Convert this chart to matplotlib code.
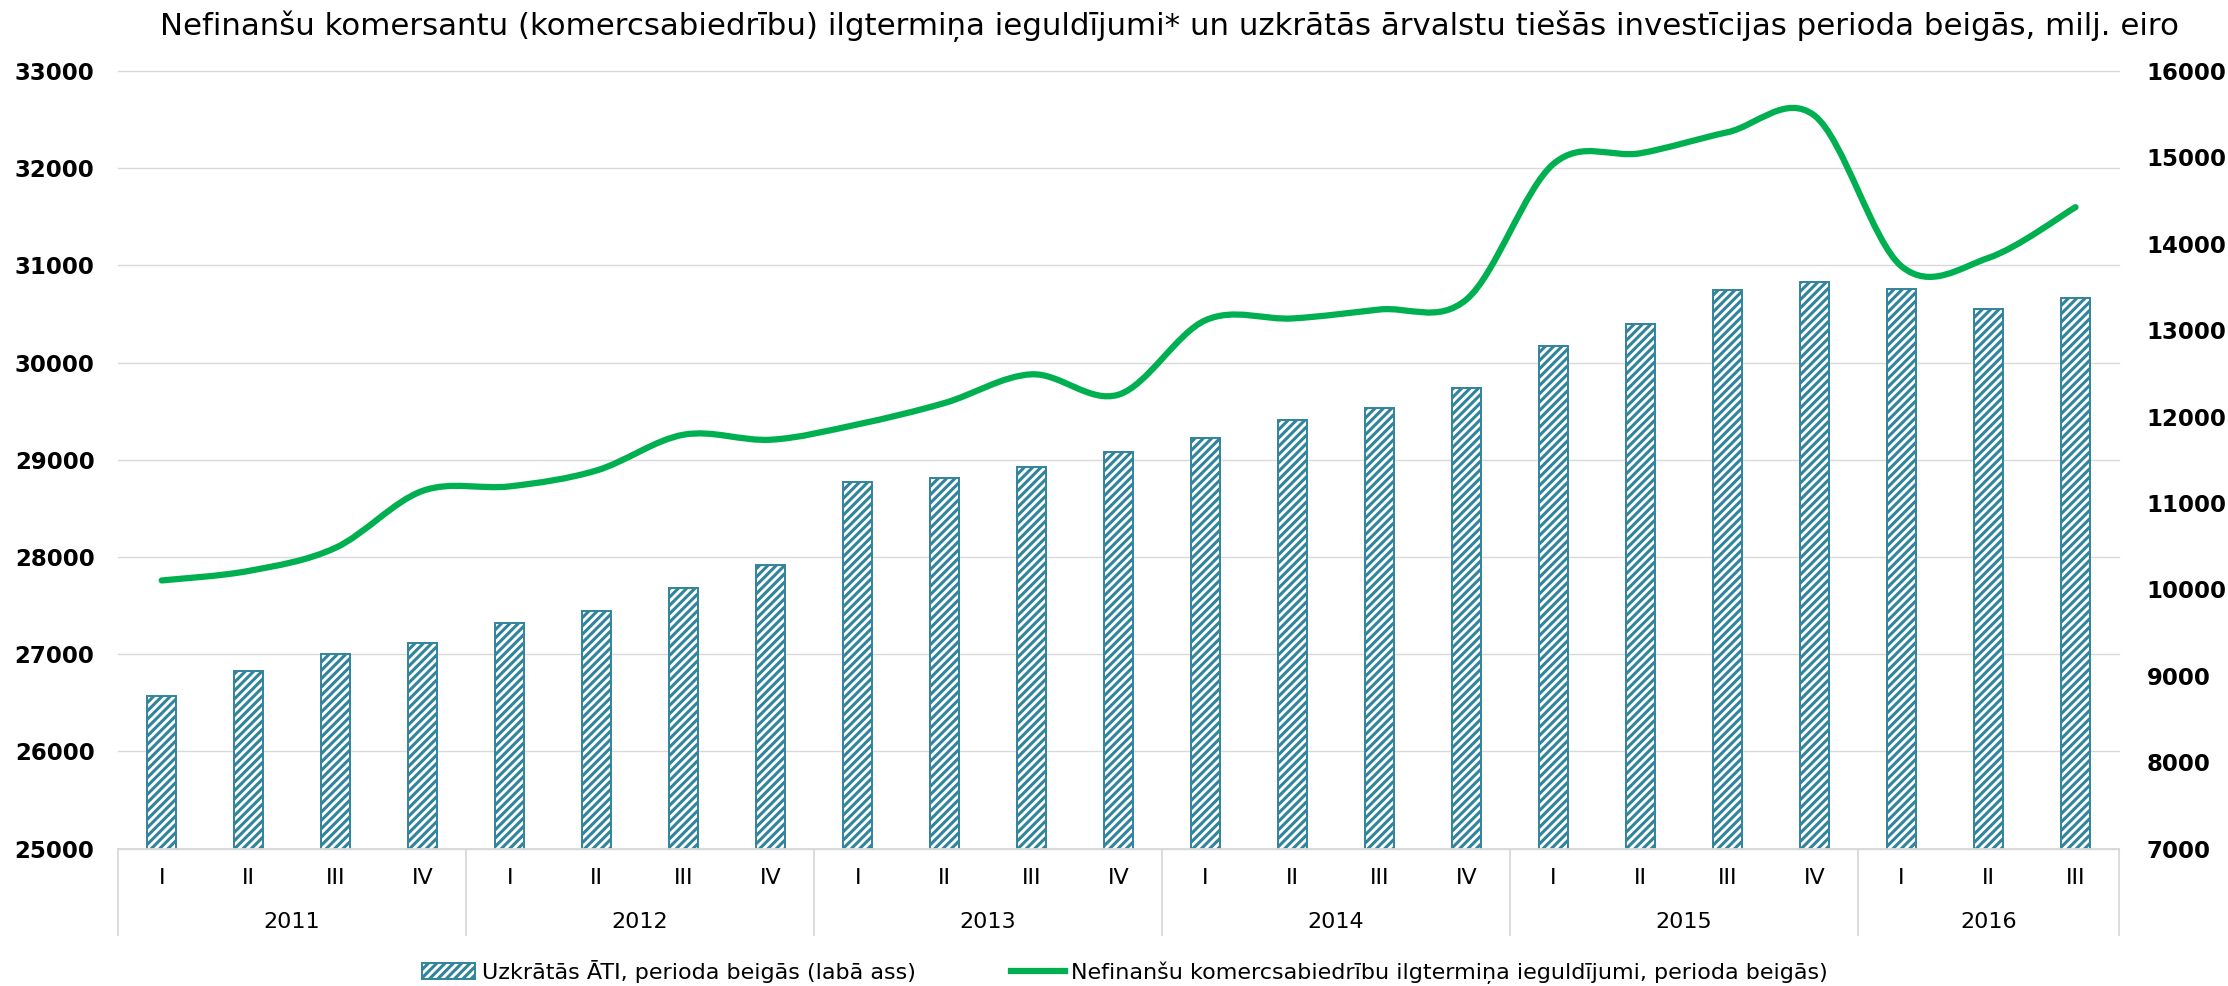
import numpy as np
import matplotlib
matplotlib.use("Agg")
import matplotlib.pyplot as plt
import matplotlib.transforms as mtransforms
from matplotlib.path import Path
from matplotlib.patches import PathPatch, Patch
from matplotlib.lines import Line2D

# data
quarters = ['I', 'II', 'III', 'IV'] * 5 + ['I', 'II', 'III']
years = ['2011', '2012', '2013', '2014', '2015', '2016']
year_sizes = [4, 4, 4, 4, 4, 3]

# Uzkrātās ĀTI (right axis)
ati = [8771, 9053, 9253, 9380, 9615, 9753, 10012, 10281, 11237, 11286, 11417, 11590,
       11756, 11960, 12095, 12326, 12811, 13069, 13470, 13558, 13474, 13250, 13369]
# Nefinanšu komercsabiedrību ilgtermiņa ieguldījumi (left axis)
ilgt = [27758, 27856, 28095, 28680, 28726, 28890, 29258, 29206, 29364, 29584, 29879, 29670,
        30436, 30454, 30546, 30650, 32045, 32154, 32370, 32541, 30990, 31077, 31599]

left_ticks = list(range(25000, 33001, 1000))
right_ticks = list(range(7000, 16001, 1000))

title = ('Nefinanšu komersantu (komercsabiedrību) ilgtermiņa ieguldījumi* un uzkrātās '
         'ārvalstu tiešās investīcijas perioda beigās, milj. eiro')
bar_label = 'Uzkrātās ĀTI, perioda beigās (labā ass)'
line_label = 'Nefinanšu komercsabiedrību ilgtermiņa ieguldījumi, perioda beigās)'

teal = '#31849B'
green = '#00B050'
grid_c = '#D9D9D9'

plt.rcParams['font.family'] = ['DejaVu Sans']
plt.rcParams['hatch.linewidth'] = 2.2

W, H = 2228, 986
fig = plt.figure(figsize=(W / 100, H / 100), dpi=100)
x0, x1, y_top, y_bot = 118.2, 2119.0, 71.0, 848.5
ax = fig.add_axes([x0 / W, 1 - y_bot / H, (x1 - x0) / W, (y_bot - y_top) / H])
ax_l = ax.twinx()

n = len(ati)
x = np.arange(n)

# bars on the right scale
ax.bar(x, ati, width=0.33, facecolor='white', edgecolor=teal, hatch='////',
       linewidth=1.4, zorder=2)
ax.set_ylim(7000, 16000)
ax.set_xlim(-0.5, n - 0.5)
ax.yaxis.tick_right()
ax.set_yticks(right_ticks)
ax.set_yticklabels([str(v) for v in right_ticks])
ax.tick_params(axis='y', length=0, pad=20, labelsize=16.5)
ax.set_xticks([])

# gridlines follow the left axis values, drawn under the bars
gtrans = mtransforms.blended_transform_factory(ax.transAxes, ax_l.transData)
for v in left_ticks:
    ax.plot([0, 1], [v, v], transform=gtrans, color=grid_c, lw=1.0, zorder=0.5,
            clip_on=False)

# smooth line on the left scale (Bezier through the points, like Excel)
pts = np.column_stack([x, ilgt]).astype(float)
verts = [tuple(pts[0])]
codes = [Path.MOVETO]
for i in range(n - 1):
    p0 = pts[max(i - 1, 0)]
    p1 = pts[i]
    p2 = pts[i + 1]
    p3 = pts[min(i + 2, n - 1)]
    c1 = p1 + (p2 - p0) / 6.0
    c2 = p2 - (p3 - p1) / 6.0
    verts += [tuple(c1), tuple(c2), tuple(p2)]
    codes += [Path.CURVE4] * 3
ax_l.add_patch(PathPatch(Path(verts, codes), facecolor='none', edgecolor=green,
                         lw=4.5, capstyle='round', joinstyle='round', zorder=3))
ax_l.set_ylim(25000, 33000)
ax_l.yaxis.tick_left()
ax_l.set_yticks(left_ticks)
ax_l.set_yticklabels([str(v) for v in left_ticks])
ax_l.tick_params(axis='y', length=0, pad=17, labelsize=16.5)

for lab in ax.get_yticklabels() + ax_l.get_yticklabels():
    lab.set_fontweight('bold')

for a in (ax, ax_l):
    for s in a.spines.values():
        s.set_visible(False)
ax.spines['bottom'].set_visible(True)
ax.spines['bottom'].set_color(grid_c)
ax.spines['bottom'].set_linewidth(1.3)

# multi-level category axis
xt = ax.get_xaxis_transform()
for i, q in enumerate(quarters):
    ax.text(i, -0.0379, q, transform=xt, ha='center', va='center', fontsize=16)
start = 0
bounds = [0]
for yr, sz in zip(years, year_sizes):
    ax.text(start + (sz - 1) / 2, -0.094, yr, transform=xt, ha='center', va='center',
            fontsize=16)
    start += sz
    bounds.append(start)
for b in bounds:
    ax.plot([b - 0.5, b - 0.5], [0, -0.111], transform=xt, color=grid_c, lw=1.3,
            clip_on=False)

fig.text(160 / W, 1 - 26 / H, title, ha='left', va='center', fontsize=22.2)

handles = [Patch(facecolor='white', edgecolor=teal, hatch='////', linewidth=1.4),
           Line2D([0], [0], color=green, lw=4.5)]
fig.legend(handles, [bar_label, line_label], loc='center',
           bbox_to_anchor=(1125 / W, 14 / H), ncol=2, frameon=False, fontsize=16,
           handlelength=2.4, handletextpad=0.3, columnspacing=4.3)

fig.savefig('out.png', dpi=100)
